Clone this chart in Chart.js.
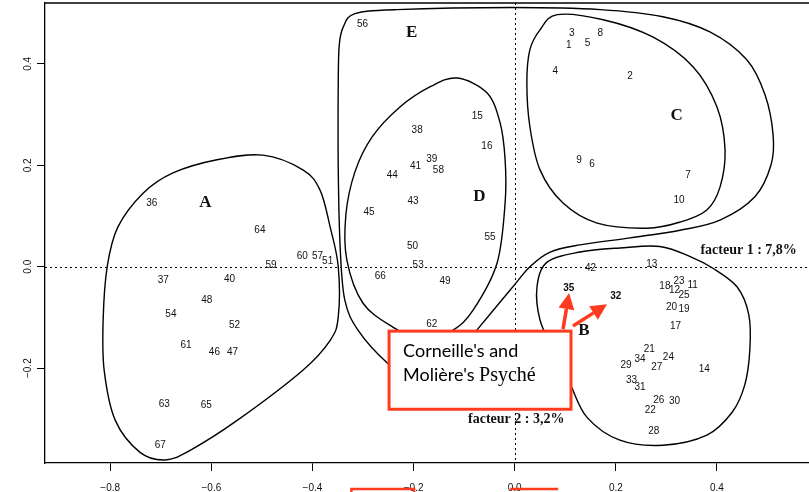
<!DOCTYPE html>
<html>
<head>
<meta charset="utf-8">
<script src="https://cdn.jsdelivr.net/npm/chart.js@4.4.1/dist/chart.umd.min.js"></script>
<style>
  html, body { margin: 0; padding: 0; background: #fff; }
  #wrap { width: 809px; height: 492px; }
</style>
</head>
<body>
<div id="wrap"><canvas id="chart" width="809" height="492"></canvas></div>
<script>
// axis range (factor 1 horizontally, factor 2 vertically)
const X_MIN = -0.929, X_MAX = 0.582;
const Y_MIN = -0.387, Y_MAX = 0.520;

// play numbers and their factor coordinates
const POINT_LABELS = [
  '1','2','3','4','5','6','7','8','9','10',
  '11','12','13','14','15','16','17','18','19','20',
  '21','22','23','24','25','26','27','28','29','30',
  '31','32','33','34','35','36','37','38','39','40',
  '41','42','43','44','45','46','47','48','49','50',
  '51','52','53','54','55','56','57','58','59','60',
  '61','62','63','64','65','66','67'
];
const POINT_X = [
  0.107, 0.228, 0.113, 0.080, 0.144, 0.153, 0.343, 0.169, 0.127, 0.325,
  0.352, 0.316, 0.271, 0.375, -0.074, -0.055, 0.318, 0.297, 0.335, 0.310,
  0.266, 0.268, 0.325, 0.304, 0.335, 0.285, 0.281, 0.275, 0.220, 0.316,
  0.248, 0.200, 0.231, 0.248, 0.107, -0.718, -0.695, -0.193, -0.164, -0.564,
  -0.196, 0.150, -0.201, -0.242, -0.288, -0.594, -0.558, -0.609, -0.138, -0.202,
  -0.370, -0.554, -0.191, -0.680, -0.049, -0.301, -0.390, -0.151, -0.482, -0.420,
  -0.650, -0.164, -0.693, -0.504, -0.610, -0.266, -0.701
];
const POINT_Y = [
  0.437, 0.376, 0.460, 0.386, 0.440, 0.202, 0.180, 0.460, 0.209, 0.131,
  -0.036, -0.047, 0.005, -0.202, 0.296, 0.238, -0.117, -0.038, -0.084, -0.079,
  -0.162, -0.283, -0.028, -0.178, -0.056, -0.263, -0.198, -0.325, -0.194, -0.265,
  -0.237, -0.058, -0.224, -0.183, -0.043, 0.126, -0.026, 0.270, 0.212, -0.025,
  0.199, -0.003, 0.130, 0.181, 0.107, -0.168, -0.168, -0.066, -0.028, 0.041,
  0.011, -0.115, 0.002, -0.094, 0.059, 0.479, 0.020, 0.191, 0.002, 0.021,
  -0.155, -0.113, -0.272, 0.071, -0.274, -0.018, -0.352
];
const BOLD_LABELS = ['35', '32'];

// cluster names and where they are written
const CLUSTER_NAMES = ['A', 'B', 'C', 'D', 'E'];
const CLUSTER_X = [-0.612, 0.137, 0.320, -0.070, -0.204];
const CLUSTER_Y = [0.126, -0.126, 0.297, 0.138, 0.461];

// hand-drawn cluster outlines, in factor units
const OUTLINE_A = [
  [-0.498, 0.220], [-0.419, 0.191], [-0.385, 0.151], [-0.365, 0.078], [-0.349, 0.000],
  [-0.349, -0.099], [-0.365, -0.145], [-0.419, -0.204], [-0.549, -0.303], [-0.642, -0.362],
  [-0.691, -0.381], [-0.741, -0.366], [-0.790, -0.303], [-0.812, -0.204], [-0.814, -0.105],
  [-0.806, 0.000], [-0.785, 0.078], [-0.735, 0.145], [-0.676, 0.185], [-0.589, 0.211]
];
const OUTLINE_B = [
  [0.064, 0.009], [0.129, 0.029], [0.208, 0.037], [0.287, 0.040], [0.347, 0.020],
  [0.392, -0.003], [0.440, -0.040], [0.463, -0.095], [0.465, -0.164], [0.455, -0.233],
  [0.430, -0.287], [0.380, -0.332], [0.293, -0.352], [0.208, -0.342], [0.143, -0.297],
  [0.109, -0.230], [0.076, -0.164], [0.050, -0.105], [0.044, -0.040]
];
const OUTLINE_C = [
  [0.084, 0.497], [0.175, 0.487], [0.273, 0.453], [0.353, 0.394], [0.400, 0.315],
  [0.416, 0.230], [0.406, 0.157], [0.380, 0.112], [0.327, 0.088], [0.262, 0.076],
  [0.163, 0.086], [0.095, 0.126], [0.050, 0.191], [0.030, 0.276], [0.024, 0.363],
  [0.030, 0.428], [0.050, 0.467]
];
const OUTLINE_D = [
  [-0.114, 0.372], [-0.055, 0.343], [-0.029, 0.284], [-0.019, 0.211], [-0.019, 0.126],
  [-0.035, 0.007], [-0.082, -0.085], [-0.122, -0.125], [-0.177, -0.149], [-0.241, -0.119],
  [-0.300, -0.072], [-0.332, 0.013], [-0.334, 0.102], [-0.316, 0.187], [-0.282, 0.256],
  [-0.227, 0.315], [-0.167, 0.355]
];
const OUTLINE_E = [
  [-0.339, 0.473], [-0.316, 0.499], [-0.233, 0.507], [-0.003, 0.511], [0.169, 0.507],
  [0.293, 0.493], [0.386, 0.463], [0.459, 0.408], [0.495, 0.339], [0.511, 0.260],
  [0.507, 0.201], [0.475, 0.138], [0.406, 0.092], [0.327, 0.072], [0.228, 0.057],
  [0.129, 0.043], [0.070, 0.029], [0.030, 0.000], [-0.009, -0.046], [-0.075, -0.125],
  [-0.138, -0.200], [-0.197, -0.228], [-0.252, -0.190], [-0.310, -0.125], [-0.336, -0.066],
  [-0.345, 0.033], [-0.349, 0.191], [-0.349, 0.368], [-0.347, 0.438]
];
const OUTLINES = [OUTLINE_A, OUTLINE_B, OUTLINE_C, OUTLINE_D, OUTLINE_E];

// axis titles
const AXIS_TITLES = ['facteur 1 : 7,8%', 'facteur 2 : 3,2%'];

// callout box and its two arrows (to plays 35 and 32)
const NOTE_LINES = ["Corneille's and", "Molière's"];
const NOTE_SERIF = 'Psyché';
const NOTE_BOX = { x0: -0.2485, x1: 0.1113, y0: -0.127, y1: -0.281 };
const ARROWS = [
  { from: [0.0955, -0.123], to: [0.1075, -0.052] },
  { from: [0.1153, -0.117], to: [0.1825, -0.074] }
];

const RED = '#ff3b1f';
const INK = '#111';

const minus = s => s.replace('-', '\u2212');

function closedCurve(ctx, pts) {
  const n = pts.length;
  ctx.beginPath();
  ctx.moveTo(pts[0][0], pts[0][1]);
  for (let i = 0; i < n; i++) {
    const p0 = pts[(i - 1 + n) % n], p1 = pts[i], p2 = pts[(i + 1) % n], p3 = pts[(i + 2) % n];
    ctx.bezierCurveTo(
      p1[0] + (p2[0] - p0[0]) / 6, p1[1] + (p2[1] - p0[1]) / 6,
      p2[0] - (p3[0] - p1[0]) / 6, p2[1] - (p3[1] - p1[1]) / 6,
      p2[0], p2[1]);
  }
  ctx.closePath();
  ctx.stroke();
}

function arrow(ctx, x1, y1, x2, y2) {
  const ang = Math.atan2(y2 - y1, x2 - x1);
  const head = 16, half = 8;
  const bx = x2 - head * Math.cos(ang), by = y2 - head * Math.sin(ang);
  ctx.beginPath();
  ctx.moveTo(x1, y1);
  ctx.lineTo(bx, by);
  ctx.lineWidth = 3.5;
  ctx.strokeStyle = RED;
  ctx.stroke();
  ctx.beginPath();
  ctx.moveTo(x2, y2);
  ctx.lineTo(bx + half * Math.sin(ang), by - half * Math.cos(ang));
  ctx.lineTo(bx - half * Math.sin(ang), by + half * Math.cos(ang));
  ctx.closePath();
  ctx.fillStyle = RED;
  ctx.fill();
}

const mapPlugin = {
  id: 'factorMap',
  beforeDatasetsDraw(chart) {
    const { ctx, chartArea: a, scales: { x, y } } = chart;
    ctx.save();
    // zero lines, dotted
    ctx.strokeStyle = '#000';
    ctx.lineWidth = 1;
    ctx.setLineDash([2, 3]);
    const x0 = Math.round(x.getPixelForValue(0)) + 0.5;
    const y0 = Math.round(y.getPixelForValue(0)) + 0.5;
    ctx.beginPath();
    ctx.moveTo(a.left, y0); ctx.lineTo(a.right, y0);
    ctx.moveTo(x0, a.top); ctx.lineTo(x0, a.bottom);
    ctx.stroke();
    ctx.setLineDash([]);
    // cluster outlines
    ctx.lineWidth = 1.4;
    ctx.lineJoin = 'round';
    OUTLINES.forEach(o => {
      closedCurve(ctx, o.map(p => [x.getPixelForValue(p[0]), y.getPixelForValue(p[1])]));
    });
    ctx.restore();
  },
  afterDatasetsDraw(chart) {
    const { ctx, chartArea: a, scales: { x, y } } = chart;
    ctx.save();
    // play numbers at each point
    const meta = chart.getDatasetMeta(0);
    ctx.textAlign = 'center';
    ctx.textBaseline = 'middle';
    ctx.fillStyle = INK;
    meta.data.forEach((pt, i) => {
      const lab = POINT_LABELS[i];
      ctx.font = (BOLD_LABELS.includes(lab) ? 'bold ' : '') + '10px "Liberation Sans", Arial, sans-serif';
      ctx.fillText(lab, pt.x, pt.y);
    });
    // cluster letters
    ctx.font = 'bold 17px "Liberation Serif", "Times New Roman", serif';
    CLUSTER_NAMES.forEach((n, i) => {
      ctx.fillText(n, x.getPixelForValue(CLUSTER_X[i]), y.getPixelForValue(CLUSTER_Y[i]));
    });
    // axis titles
    ctx.font = 'bold 14px "Liberation Serif", "Times New Roman", serif';
    ctx.textAlign = 'right';
    ctx.fillText(AXIS_TITLES[0], x.getPixelForValue(0.558), y.getPixelForValue(0.033));
    ctx.textAlign = 'left';
    ctx.fillText(AXIS_TITLES[1], x.getPixelForValue(-0.0923), y.getPixelForValue(-0.3006));

    // callout box
    const bl = x.getPixelForValue(NOTE_BOX.x0), br = x.getPixelForValue(NOTE_BOX.x1);
    const bt = y.getPixelForValue(NOTE_BOX.y0), bb = y.getPixelForValue(NOTE_BOX.y1);
    ctx.fillStyle = '#fff';
    ctx.fillRect(bl, bt, br - bl, bb - bt);
    ctx.strokeStyle = RED;
    ctx.lineWidth = 3;
    ctx.strokeRect(bl, bt, br - bl, bb - bt);
    ctx.fillStyle = '#000';
    ctx.textAlign = 'left';
    ctx.textBaseline = 'alphabetic';
    ctx.font = '18px "Comic Sans MS", "Lato", sans-serif';
    ctx.fillText(NOTE_LINES[0], bl + 14, bt + 26);
    ctx.fillText(NOTE_LINES[1], bl + 14, bt + 50);
    const w = ctx.measureText(NOTE_LINES[1] + ' ').width;
    ctx.font = '20px "Liberation Serif", "Times New Roman", serif';
    ctx.fillText(NOTE_SERIF, bl + 14 + w, bt + 50);

    ARROWS.forEach(ar => arrow(ctx,
      x.getPixelForValue(ar.from[0]), y.getPixelForValue(ar.from[1]),
      x.getPixelForValue(ar.to[0]), y.getPixelForValue(ar.to[1])));
    ctx.restore();
  },
  afterDraw(chart) {
    const { ctx, chartArea: a, scales: { x, y } } = chart;
    ctx.save();
    // top frame line
    ctx.strokeStyle = '#000';
    ctx.lineWidth = 1.3;
    ctx.beginPath();
    ctx.moveTo(a.left, a.top); ctx.lineTo(a.right, a.top);
    ctx.stroke();
    // vertical tick labels on the left axis
    ctx.fillStyle = INK;
    ctx.font = '10px "Liberation Sans", Arial, sans-serif';
    ctx.textAlign = 'center';
    ctx.textBaseline = 'middle';
    y.ticks.forEach(t => {
      ctx.save();
      ctx.translate(a.left - 17, y.getPixelForValue(t.value));
      ctx.rotate(-Math.PI / 2);
      ctx.fillText(minus(t.value.toFixed(1)), 0, 0);
      ctx.restore();
    });
    // red marks cut off at the bottom edge
    ctx.strokeStyle = RED;
    ctx.lineWidth = 2.5;
    const h = chart.height;
    ctx.beginPath();
    ctx.moveTo(x.getPixelForValue(-0.323), h + 2);
    ctx.lineTo(x.getPixelForValue(-0.323), h - 3);
    ctx.lineTo(x.getPixelForValue(-0.199), h - 3);
    ctx.lineTo(x.getPixelForValue(-0.199), h + 2);
    ctx.moveTo(x.getPixelForValue(-0.009), h - 3);
    ctx.lineTo(x.getPixelForValue(0.086), h - 3);
    ctx.stroke();
    ctx.restore();
  }
};

new Chart(document.getElementById('chart'), {
  type: 'scatter',
  data: {
    datasets: [{
      data: POINT_X.map((v, i) => ({ x: v, y: POINT_Y[i] })),
      pointRadius: 0,
      pointHoverRadius: 0,
      showLine: false
    }]
  },
  options: {
    responsive: false,
    animation: false,
    layout: { padding: { top: 3, right: 0, left: 0, bottom: 0 } },
    plugins: { legend: { display: false }, tooltip: { enabled: false } },
    scales: {
      x: {
        type: 'linear',
        min: X_MIN,
        max: X_MAX,
        afterFit: s => { s.height = 29; s.paddingLeft = 0; s.paddingRight = 0; },
        ticks: {
          stepSize: 0.2,
          includeBounds: false,
          autoSkip: false,
          maxRotation: 0,
          padding: 11,
          color: INK,
          font: { family: '"Liberation Sans", Arial, sans-serif', size: 10 },
          callback: v => minus(Number(v).toFixed(1))
        },
        grid: { drawOnChartArea: false, drawTicks: true, tickLength: 8, tickColor: '#000', tickWidth: 1 },
        border: { display: true, color: '#000', width: 1.3 }
      },
      y: {
        type: 'linear',
        min: Y_MIN,
        max: Y_MAX,
        afterFit: s => { s.width = 45; s.paddingTop = 0; s.paddingBottom = 0; },
        ticks: {
          stepSize: 0.2,
          includeBounds: false,
          color: 'rgba(0,0,0,0)',
          font: { size: 10 }
        },
        grid: { drawOnChartArea: false, drawTicks: true, tickLength: 8, tickColor: '#000', tickWidth: 1 },
        border: { display: true, color: '#000', width: 1.3 }
      }
    }
  },
  plugins: [mapPlugin]
});
</script>
</body>
</html>
